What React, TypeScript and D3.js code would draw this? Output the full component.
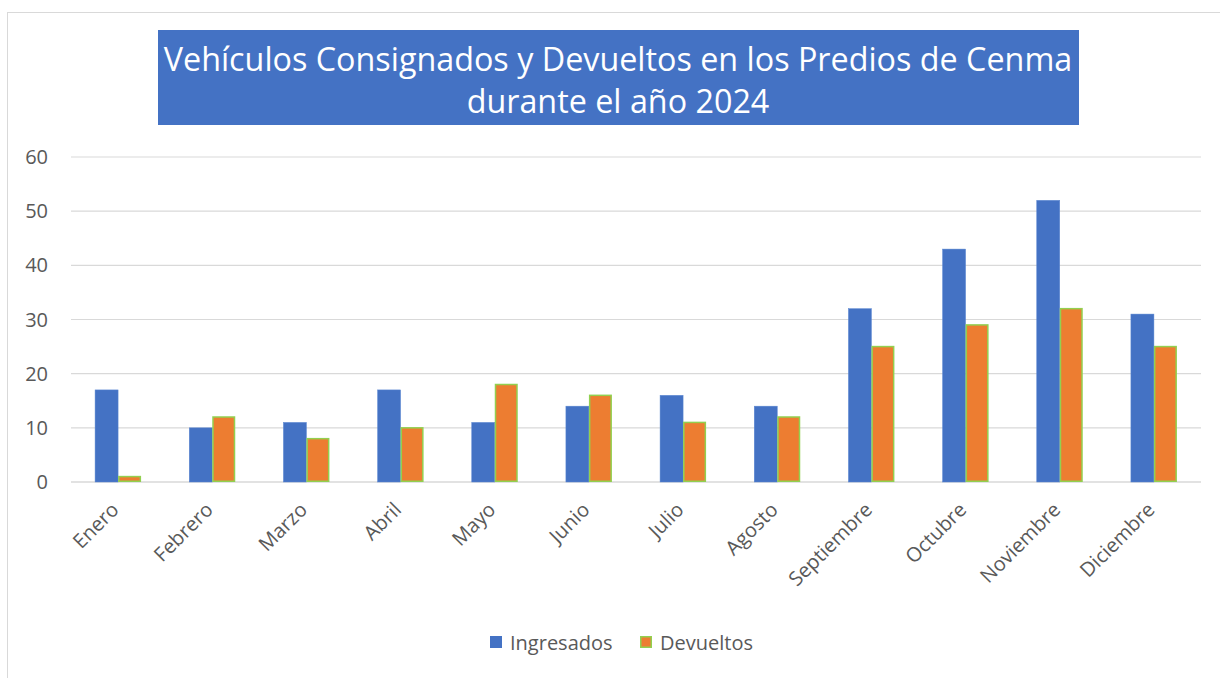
import React from "react";
import * as d3 from "d3";

const months = ["Enero","Febrero","Marzo","Abril","Mayo","Junio","Julio","Agosto","Septiembre","Octubre","Noviembre","Diciembre"];
const ingresados = [17,10,11,17,11,14,16,14,32,43,52,31];
const devueltos = [1,12,8,10,18,16,11,12,25,29,32,25];
const yTicks = [0,10,20,30,40,50,60];
const titleLines = ["Vehículos Consignados y Devueltos en los Predios de Cenma", "durante el año 2024"];
const seriesNames = ["Ingresados", "Devueltos"];

const W = 1220, H = 678;
const left = 71, right = 1201, top = 157, bottom = 482;
const font = "'Open Sans', 'Noto Sans', sans-serif";

export default function App() {
  const x = d3.scaleBand<string>().domain(months).range([left, right]).paddingInner(0).paddingOuter(0);
  const y = d3.scaleLinear().domain([0, 60]).range([bottom, top]);
  const bw = 23;
  return (
    <svg width={W} height={H} style={{ position: "absolute", left: 0, top: 0, background: "#fff" }} fontFamily={font}>
      <rect x={7.5} y={12.5} width={1230} height={700} fill="#fff" stroke="#d9d9d9" strokeWidth={1} />
      <rect x={158} y={30} width={921} height={95} fill="#4472c4" />
      {titleLines.map((t, i) => (
        <text key={i} x={618} y={71 + i * 42} textAnchor="middle" fill="#fff" fontSize={32.3}>{t}</text>
      ))}
      {yTicks.map(t => (
        <g key={t}>
          <line x1={left} x2={right} y1={y(t)} y2={y(t)} stroke="#d9d9d9" strokeWidth={t === 0 ? 1.5 : 1.2} />
          <text x={48} y={y(t) + 7} textAnchor="end" fill="#595959" fontSize={20}>{t}</text>
        </g>
      ))}
      {months.map((m, i) => {
        const cx = (x(m) as number) + x.bandwidth() / 2;
        return (
          <g key={m}>
            <rect x={cx - bw} y={y(ingresados[i])} width={bw} height={y(0) - y(ingresados[i])} fill="#4472c4" stroke="#5b86d1" strokeWidth={0.5} />
            <rect x={cx + 0.75} y={y(devueltos[i])} width={bw - 1.5} height={y(0) - y(devueltos[i]) - 0.75} fill="#ed7d31" stroke="#92d050" strokeWidth={1.5} />
            <text transform={`translate(${cx + 2},${bottom + 29}) rotate(-45)`} textAnchor="end" fill="#595959" fontSize={20}>{m}</text>
          </g>
        );
      })}
      <rect x={490} y={636} width={12} height={12} fill="#4472c4" />
      <text x={510} y={650} fill="#595959" fontSize={20}>{seriesNames[0]}</text>
      <rect x={640.75} y={636.75} width={10.5} height={10.5} fill="#ed7d31" stroke="#92d050" strokeWidth={1.5} />
      <text x={660} y={650} fill="#595959" fontSize={20}>{seriesNames[1]}</text>
    </svg>
  );
}
